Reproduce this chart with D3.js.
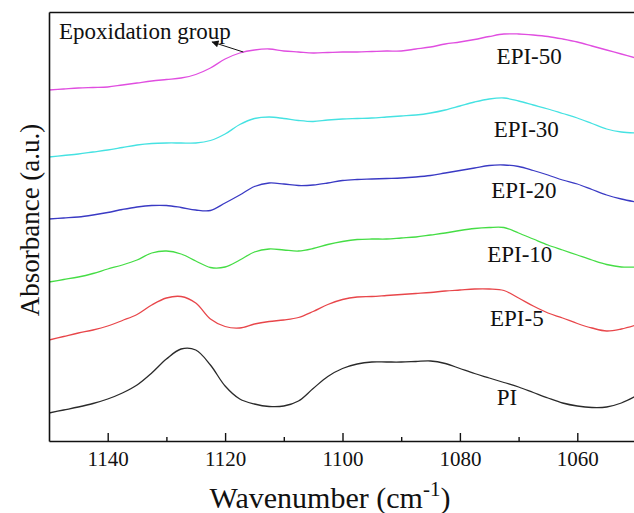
<!DOCTYPE html>
<html>
<head>
<meta charset="utf-8">
<script src="https://cdn.jsdelivr.net/npm/d3@7"></script>
<style>
  body { margin: 0; background: #fff; }
  svg { display: block; font-family: "Liberation Serif", "Times New Roman", serif; }
</style>
</head>
<body>
<div id="chart"></div>
<script>
// wavenumbers (cm-1), shared by all spectra
const wavenumbers = [1150, 1147.5, 1145, 1142.5, 1140, 1137.5, 1135, 1132.5, 1130, 1127.5,
  1125, 1122.5, 1120, 1117.5, 1115, 1112.5, 1110, 1107.5, 1105, 1102.5,
  1100, 1097.5, 1095, 1092.5, 1090, 1087.5, 1085, 1082.5, 1080, 1077.5,
  1075, 1072.5, 1070, 1067.5, 1065, 1062.5, 1060, 1057.5, 1055, 1052.5, 1050];

// absorbance (a.u., spectra stacked with offsets)
const PI = [28, 31, 34, 37.5, 42, 48, 56, 68, 82, 92, 91, 76, 55, 42, 37, 34.5, 35, 40, 52.5, 64.5,
  72.5, 77, 79, 79, 79, 79.5, 80, 77.5, 72.5, 67.5, 63, 58.5, 54, 48.5, 43, 38, 35, 33.5, 34, 38, 45];
const EPI5 = [101, 104.5, 108, 111, 115, 120.5, 126.5, 136, 143, 144.5, 138, 122, 114.5, 113, 117, 119.5, 121, 123.5, 129.5, 136.5,
  141.5, 144, 144.5, 145.5, 146.5, 147.5, 148.5, 150, 151, 152, 152, 150.5, 143, 135, 128, 123, 117.5, 113, 110, 112, 116];
const EPI10 = [159, 161.5, 164, 167.5, 172, 176, 181, 188, 190, 187, 180, 173.5, 174, 181, 189, 192, 191, 190, 192.5, 196.5,
  199.5, 201.5, 202, 202, 203, 204, 206, 208, 210.5, 212.5, 213.5, 213.5, 208, 202, 196, 191, 186, 181, 176.5, 174, 174];
const EPI20 = [222, 223, 224, 226, 228.5, 231.5, 234, 235.5, 235.5, 233.5, 231, 230.5, 238, 246, 254.5, 258, 257, 255.5, 256, 258,
  260.5, 261.5, 262, 262.5, 263, 264, 265.5, 268, 270.5, 273, 275.5, 276, 274.5, 270.5, 266, 261, 257, 251.5, 246, 242, 239];
const EPI30 = [284, 285.5, 287, 289, 291, 293.5, 296, 297.5, 298, 298, 298, 300.5, 307, 316.5, 322.5, 324, 322.5, 320.5, 319.5, 321,
  322, 322.5, 323, 324, 325, 326, 328, 331, 335, 339, 342, 343, 340, 336, 332, 327.5, 323, 317.5, 312, 309, 308];
const EPI50 = [351, 352, 353, 353.5, 354, 356, 358, 360, 361.5, 363, 366.5, 373, 382, 388, 391, 392, 390, 389, 388, 388.5,
  389, 389, 389.5, 390, 390, 392, 394, 397, 399, 401.5, 404.5, 407, 407, 406, 404.5, 402, 399, 395, 391, 387, 383];

const seriesNames = ['PI', 'EPI-5', 'EPI-10', 'EPI-20', 'EPI-30', 'EPI-50'];
const seriesValues = [PI, EPI5, EPI10, EPI20, EPI30, EPI50];
const seriesColors = ['#2a2a2a', '#e8464a', '#45dd45', '#3a3ac4', '#45e2e2', '#e04ee0'];
// label anchor for each curve: [wavenumber, absorbance]
const labelPos = [[1072, 36], [1070.3, 115], [1069.8, 179], [1069.1, 243], [1068.7, 304], [1068.2, 377]];

const majorTicks = [1140, 1120, 1100, 1080, 1060];
const minorTicks = [1130, 1110, 1090, 1070];

// annotation: text anchor, arrow from -> to  [wavenumber, absorbance]
const noteText = 'Epoxidation group';
const notePos = [1148.3, 402];
const arrowFrom = [1116.9, 389];
const arrowTo = [1122.2, 399];

const width = 634, height = 513;
const margin = { top: 12, right: -2, bottom: 72, left: 49 };

const svg = d3.select('#chart').append('svg')
  .attr('width', width)
  .attr('height', height);

const x = d3.scaleLinear()
  .domain([1150, 1050])
  .range([margin.left, width - margin.right]);

const y = d3.scaleLinear()
  .domain([0, 429])
  .range([height - margin.bottom, margin.top]);

const defs = svg.append('defs');
defs.append('clipPath').attr('id', 'clip')
  .append('rect')
  .attr('x', margin.left).attr('y', margin.top)
  .attr('width', width - margin.left).attr('height', height - margin.top - margin.bottom);

defs.append('marker')
  .attr('id', 'arrow')
  .attr('viewBox', '0 0 10 10')
  .attr('refX', 9).attr('refY', 5)
  .attr('markerWidth', 9).attr('markerHeight', 7)
  .attr('markerUnits', 'userSpaceOnUse')
  .attr('orient', 'auto')
  .append('path').attr('d', 'M0,0 L10,5 L0,10 z').attr('fill', '#111');

const line = d3.line()
  .x((d, i) => x(wavenumbers[i]))
  .y(d => y(d))
  .curve(d3.curveCatmullRom.alpha(0.5));

svg.append('g').attr('clip-path', 'url(#clip)')
  .selectAll('path')
  .data(seriesValues)
  .enter().append('path')
  .attr('d', d => line(d))
  .attr('fill', 'none')
  .attr('stroke', (d, i) => seriesColors[i])
  .attr('stroke-width', 1.3);

// curve labels
svg.append('g').selectAll('text')
  .data(seriesNames)
  .enter().append('text')
  .attr('x', (d, i) => x(labelPos[i][0]))
  .attr('y', (d, i) => y(labelPos[i][1]))
  .attr('text-anchor', 'middle')
  .attr('font-size', 23)
  .attr('fill', '#111')
  .text(d => d);

// annotation
svg.append('text')
  .attr('x', x(notePos[0]))
  .attr('y', y(notePos[1]))
  .attr('font-size', 23)
  .attr('fill', '#111')
  .text(noteText);

svg.append('line')
  .attr('x1', x(arrowFrom[0])).attr('y1', y(arrowFrom[1]))
  .attr('x2', x(arrowTo[0])).attr('y2', y(arrowTo[1]))
  .attr('stroke', '#111')
  .attr('stroke-width', 1)
  .attr('marker-end', 'url(#arrow)');

// axes
const xAxis = svg.append('g')
  .attr('transform', `translate(0,${height - margin.bottom})`)
  .call(d3.axisBottom(x).tickValues(majorTicks).tickSize(-8).tickSizeOuter(0).tickPadding(10).tickFormat(d3.format('d')));

xAxis.select('.domain').attr('stroke', '#111').attr('stroke-width', 1.6);
xAxis.selectAll('.tick line').attr('stroke', '#111').attr('stroke-width', 1.4);
xAxis.selectAll('.tick text')
  .attr('font-size', 21)
  .attr('font-family', '"Liberation Serif", "Times New Roman", serif')
  .attr('fill', '#111');

const xMinor = svg.append('g')
  .attr('transform', `translate(0,${height - margin.bottom})`)
  .call(d3.axisBottom(x).tickValues(minorTicks).tickSize(-4).tickSizeOuter(0).tickFormat(''));
xMinor.select('.domain').remove();
xMinor.selectAll('.tick line').attr('stroke', '#111').attr('stroke-width', 1.4);

const yAxis = svg.append('g')
  .attr('transform', `translate(${margin.left},0)`)
  .call(d3.axisLeft(y).tickValues([]).tickSizeOuter(0));
yAxis.select('.domain').attr('stroke', '#111').attr('stroke-width', 1.6);

const topAxis = svg.append('g')
  .attr('transform', `translate(0,${margin.top})`)
  .call(d3.axisTop(x).tickValues([]).tickSizeOuter(0));
topAxis.select('.domain').attr('stroke', '#111').attr('stroke-width', 1.6);

// axis titles
const xTitle = svg.append('text')
  .attr('x', 330)
  .attr('y', 508)
  .attr('text-anchor', 'middle')
  .attr('font-size', 30)
  .attr('fill', '#111');
xTitle.append('tspan').text('Wavenumber (cm');
xTitle.append('tspan').attr('dy', -12).attr('font-size', 21).text('-1');
xTitle.append('tspan').attr('dy', 12).text(')');

svg.append('text')
  .attr('transform', 'translate(39,220) rotate(-90)')
  .attr('text-anchor', 'middle')
  .attr('font-size', 27)
  .attr('fill', '#111')
  .text('Absorbance (a.u.)');
</script>
</body>
</html>
